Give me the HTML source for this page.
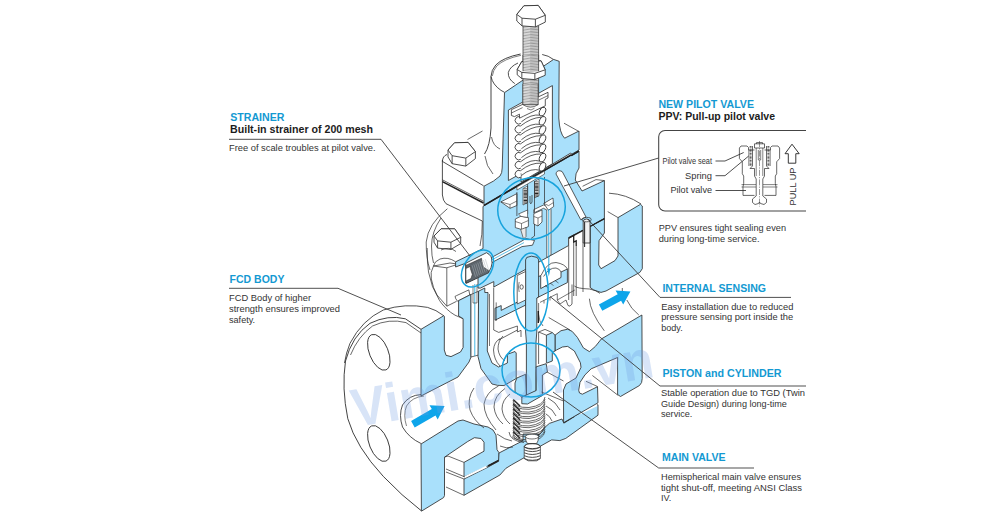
<!DOCTYPE html>
<html><head><meta charset="utf-8"><title>valve</title>
<style>
html,body{margin:0;padding:0;background:#fff;}
svg{display:block;font-family:"Liberation Sans",sans-serif;}
</style></head><body>
<svg width="1000" height="521" viewBox="0 0 1000 521">
<rect width="1000" height="521" fill="#fff"/>
<path d="M520.6,54 Q503,57.5 495.8,65 Q491.3,70 491,76.5 V128 Q490,146 484.5,154" fill="none" stroke="#2b2b2b" stroke-width="0.89" />
<path d="M521,55.3 Q504,58.8 496.8,66 Q493,70.5 492.3,76" fill="none" stroke="#2b2b2b" stroke-width="0.59" />
<path d="M518,63 Q510,66.5 508.3,72.5 Q507.8,79 514.8,83.6" fill="none" stroke="#2b2b2b" stroke-width="0.83" />
<path d="M491,76.5 Q492.5,84.5 501,90.4 L504.5,92.3" fill="none" stroke="#2b2b2b" stroke-width="0.83" />
<path d="M542.2,54.5 Q548.5,55.5 553.5,59.5" fill="none" stroke="#2b2b2b" stroke-width="0.83" />
<path d="M504.5,92.6 L553.6,59.4 L559.2,61.3 L558.8,118 Q559.6,133.5 564.6,138.2 L579,131 V150 L571.8,154.2 L570.8,153 L484,205.5 V186.2 Q495,181 500,176 Q502.2,173 502.2,168 Z" fill="#a9e0fb" stroke="#2b2b2b" stroke-width="0.83" />
<path d="M564,123.2 L578.4,131.2" fill="none" stroke="#2b2b2b" stroke-width="0.71" />
<path d="M508.4,110 L552.4,85.6 V163.8 L521,182.0 L521,173.5 L508.4,180.5 Z" fill="#fff" stroke="#2b2b2b" stroke-width="0.83" />
<path d="M523.0,26.0 L538.6,26.0 L538.6,107.0 L523.0,107.0 Z" fill="#e4e4e4" stroke="none" stroke-width="0.7" />
<rect x="523.0" y="26" width="7.02000000000001" height="81" fill="#fff"/>
<path d="M523.0,26.0 Q530.8,27.3 538.6,26.2" fill="none" stroke="#555" stroke-width="0.53" />
<path d="M523.0,27.6 Q530.8,28.9 538.6,27.8" fill="none" stroke="#555" stroke-width="0.53" />
<path d="M523.0,29.1 Q530.8,30.4 538.6,29.3" fill="none" stroke="#555" stroke-width="0.53" />
<path d="M523.0,30.7 Q530.8,32.0 538.6,30.9" fill="none" stroke="#555" stroke-width="0.53" />
<path d="M523.0,32.2 Q530.8,33.5 538.6,32.4" fill="none" stroke="#555" stroke-width="0.53" />
<path d="M523.0,33.8 Q530.8,35.0 538.6,34.0" fill="none" stroke="#555" stroke-width="0.53" />
<path d="M523.0,35.3 Q530.8,36.6 538.6,35.5" fill="none" stroke="#555" stroke-width="0.53" />
<path d="M523.0,36.8 Q530.8,38.1 538.6,37.0" fill="none" stroke="#555" stroke-width="0.53" />
<path d="M523.0,38.4 Q530.8,39.7 538.6,38.6" fill="none" stroke="#555" stroke-width="0.53" />
<path d="M523.0,39.9 Q530.8,41.2 538.6,40.1" fill="none" stroke="#555" stroke-width="0.53" />
<path d="M523.0,41.5 Q530.8,42.8 538.6,41.7" fill="none" stroke="#555" stroke-width="0.53" />
<path d="M523.0,43.0 Q530.8,44.3 538.6,43.2" fill="none" stroke="#555" stroke-width="0.53" />
<path d="M523.0,44.6 Q530.8,45.9 538.6,44.8" fill="none" stroke="#555" stroke-width="0.53" />
<path d="M523.0,46.1 Q530.8,47.4 538.6,46.3" fill="none" stroke="#555" stroke-width="0.53" />
<path d="M523.0,47.7 Q530.8,49.0 538.6,47.9" fill="none" stroke="#555" stroke-width="0.53" />
<path d="M523.0,49.2 Q530.8,50.5 538.6,49.4" fill="none" stroke="#555" stroke-width="0.53" />
<path d="M523.0,50.8 Q530.8,52.1 538.6,51.0" fill="none" stroke="#555" stroke-width="0.53" />
<path d="M523.0,52.3 Q530.8,53.6 538.6,52.5" fill="none" stroke="#555" stroke-width="0.53" />
<path d="M523.0,53.9 Q530.8,55.2 538.6,54.1" fill="none" stroke="#555" stroke-width="0.53" />
<path d="M523.0,55.4 Q530.8,56.7 538.6,55.6" fill="none" stroke="#555" stroke-width="0.53" />
<path d="M523.0,57.0 Q530.8,58.3 538.6,57.2" fill="none" stroke="#555" stroke-width="0.53" />
<path d="M523.0,58.5 Q530.8,59.8 538.6,58.7" fill="none" stroke="#555" stroke-width="0.53" />
<path d="M523.0,60.1 Q530.8,61.4 538.6,60.3" fill="none" stroke="#555" stroke-width="0.53" />
<path d="M523.0,61.6 Q530.8,62.9 538.6,61.8" fill="none" stroke="#555" stroke-width="0.53" />
<path d="M523.0,63.2 Q530.8,64.5 538.6,63.4" fill="none" stroke="#555" stroke-width="0.53" />
<path d="M523.0,64.7 Q530.8,66.0 538.6,64.9" fill="none" stroke="#555" stroke-width="0.53" />
<path d="M523.0,66.3 Q530.8,67.6 538.6,66.5" fill="none" stroke="#555" stroke-width="0.53" />
<path d="M523.0,67.8 Q530.8,69.1 538.6,68.0" fill="none" stroke="#555" stroke-width="0.53" />
<path d="M523.0,69.4 Q530.8,70.7 538.6,69.6" fill="none" stroke="#555" stroke-width="0.53" />
<path d="M523.0,70.9 Q530.8,72.2 538.6,71.1" fill="none" stroke="#555" stroke-width="0.53" />
<path d="M523.0,72.5 Q530.8,73.8 538.6,72.7" fill="none" stroke="#555" stroke-width="0.53" />
<path d="M523.0,74.0 Q530.8,75.3 538.6,74.2" fill="none" stroke="#555" stroke-width="0.53" />
<path d="M523.0,75.6 Q530.8,76.9 538.6,75.8" fill="none" stroke="#555" stroke-width="0.53" />
<path d="M523.0,77.1 Q530.8,78.4 538.6,77.3" fill="none" stroke="#555" stroke-width="0.53" />
<path d="M523.0,78.7 Q530.8,80.0 538.6,78.9" fill="none" stroke="#555" stroke-width="0.53" />
<path d="M523.0,80.2 Q530.8,81.5 538.6,80.4" fill="none" stroke="#555" stroke-width="0.53" />
<path d="M523.0,81.8 Q530.8,83.1 538.6,82.0" fill="none" stroke="#555" stroke-width="0.53" />
<path d="M523.0,83.3 Q530.8,84.6 538.6,83.5" fill="none" stroke="#555" stroke-width="0.53" />
<path d="M523.0,84.9 Q530.8,86.2 538.6,85.1" fill="none" stroke="#555" stroke-width="0.53" />
<path d="M523.0,86.4 Q530.8,87.7 538.6,86.6" fill="none" stroke="#555" stroke-width="0.53" />
<path d="M523.0,88.0 Q530.8,89.3 538.6,88.2" fill="none" stroke="#555" stroke-width="0.53" />
<path d="M523.0,89.5 Q530.8,90.8 538.6,89.7" fill="none" stroke="#555" stroke-width="0.53" />
<path d="M523.0,91.1 Q530.8,92.4 538.6,91.3" fill="none" stroke="#555" stroke-width="0.53" />
<path d="M523.0,92.6 Q530.8,93.9 538.6,92.8" fill="none" stroke="#555" stroke-width="0.53" />
<path d="M523.0,94.2 Q530.8,95.5 538.6,94.4" fill="none" stroke="#555" stroke-width="0.53" />
<path d="M523.0,95.7 Q530.8,97.0 538.6,95.9" fill="none" stroke="#555" stroke-width="0.53" />
<path d="M523.0,97.3 Q530.8,98.6 538.6,97.5" fill="none" stroke="#555" stroke-width="0.53" />
<path d="M523.0,98.8 Q530.8,100.1 538.6,99.0" fill="none" stroke="#555" stroke-width="0.53" />
<path d="M523.0,100.4 Q530.8,101.7 538.6,100.6" fill="none" stroke="#555" stroke-width="0.53" />
<path d="M523.0,101.9 Q530.8,103.2 538.6,102.1" fill="none" stroke="#555" stroke-width="0.53" />
<path d="M523.0,103.5 Q530.8,104.8 538.6,103.7" fill="none" stroke="#555" stroke-width="0.53" />
<path d="M523.0,105.0 Q530.8,106.3 538.6,105.2" fill="none" stroke="#555" stroke-width="0.53" />
<path d="M523.0,106.6 Q530.8,107.9 538.6,106.8" fill="none" stroke="#555" stroke-width="0.53" />
<line x1="523.0" y1="26" x2="523.0" y2="107" stroke="#2b2b2b" stroke-width="0.71"/>
<line x1="538.6" y1="26" x2="538.6" y2="107" stroke="#2b2b2b" stroke-width="0.71"/>
<path d="M520.5,117.0 Q531,108.7 541.2,108.0" fill="none" stroke="#2b2b2b" stroke-width="0.77" />
<path d="M521.4,121.8 Q531,113.7 540.4,115.2" fill="none" stroke="#2b2b2b" stroke-width="0.77" />
<path d="M520.6,117.1 A3.7,3.7 0 1 0 520.9,123.4" fill="#fff" stroke="#2b2b2b" stroke-width="0.83" />
<ellipse cx="542.5" cy="111.6" rx="2.9" ry="4.6" transform="rotate(22 542.5 111.6)" fill="#fff" stroke="#2b2b2b" stroke-width="0.83"/>
<path d="M520.5,126.0 Q531,117.7 541.2,117.2" fill="none" stroke="#2b2b2b" stroke-width="0.77" />
<path d="M521.4,130.8 Q531,122.7 540.4,124.4" fill="none" stroke="#2b2b2b" stroke-width="0.77" />
<path d="M520.6,126.1 A3.7,3.7 0 1 0 520.9,132.3" fill="#fff" stroke="#2b2b2b" stroke-width="0.83" />
<ellipse cx="542.5" cy="120.8" rx="2.9" ry="4.6" transform="rotate(22 542.5 120.8)" fill="#fff" stroke="#2b2b2b" stroke-width="0.83"/>
<path d="M520.5,134.9 Q531,126.6 541.2,126.4" fill="none" stroke="#2b2b2b" stroke-width="0.77" />
<path d="M521.4,139.7 Q531,131.6 540.4,133.6" fill="none" stroke="#2b2b2b" stroke-width="0.77" />
<path d="M520.6,135.0 A3.7,3.7 0 1 0 520.9,141.3" fill="#fff" stroke="#2b2b2b" stroke-width="0.83" />
<ellipse cx="542.5" cy="130.0" rx="2.9" ry="4.6" transform="rotate(22 542.5 130.0)" fill="#fff" stroke="#2b2b2b" stroke-width="0.83"/>
<path d="M520.5,143.9 Q531,135.6 541.2,135.6" fill="none" stroke="#2b2b2b" stroke-width="0.77" />
<path d="M521.4,148.7 Q531,140.6 540.4,142.8" fill="none" stroke="#2b2b2b" stroke-width="0.77" />
<path d="M520.6,144.0 A3.7,3.7 0 1 0 520.9,150.2" fill="#fff" stroke="#2b2b2b" stroke-width="0.83" />
<ellipse cx="542.5" cy="139.2" rx="2.9" ry="4.6" transform="rotate(22 542.5 139.2)" fill="#fff" stroke="#2b2b2b" stroke-width="0.83"/>
<path d="M520.5,152.8 Q531,144.5 541.2,144.8" fill="none" stroke="#2b2b2b" stroke-width="0.77" />
<path d="M521.4,157.6 Q531,149.5 540.4,152.0" fill="none" stroke="#2b2b2b" stroke-width="0.77" />
<path d="M520.6,152.9 A3.7,3.7 0 1 0 520.9,159.2" fill="#fff" stroke="#2b2b2b" stroke-width="0.83" />
<ellipse cx="542.5" cy="148.39999999999998" rx="2.9" ry="4.6" transform="rotate(22 542.5 148.39999999999998)" fill="#fff" stroke="#2b2b2b" stroke-width="0.83"/>
<path d="M520.5,161.8 Q531,153.4 541.2,154.0" fill="none" stroke="#2b2b2b" stroke-width="0.77" />
<path d="M521.4,166.5 Q531,158.4 540.4,161.2" fill="none" stroke="#2b2b2b" stroke-width="0.77" />
<path d="M520.6,161.8 A3.7,3.7 0 1 0 520.9,168.1" fill="#fff" stroke="#2b2b2b" stroke-width="0.83" />
<ellipse cx="542.5" cy="157.6" rx="2.9" ry="4.6" transform="rotate(22 542.5 157.6)" fill="#fff" stroke="#2b2b2b" stroke-width="0.83"/>
<path d="M520.5,170.7 Q531,162.4 541.2,163.2" fill="none" stroke="#2b2b2b" stroke-width="0.77" />
<path d="M521.4,175.5 Q531,167.4 540.4,170.4" fill="none" stroke="#2b2b2b" stroke-width="0.77" />
<path d="M520.6,170.8 A3.7,3.7 0 1 0 520.9,177.1" fill="#fff" stroke="#2b2b2b" stroke-width="0.83" />
<ellipse cx="542.5" cy="166.79999999999998" rx="2.9" ry="4.6" transform="rotate(22 542.5 166.79999999999998)" fill="#fff" stroke="#2b2b2b" stroke-width="0.83"/>
<path d="M511.4,109.7 L548.0,92.3 L548.0,98.0 L545.3,99.4 L545.3,105.8 L523.5,116.2 L519.5,118.2 L519.5,114.2 L514.5,116.6 L511.4,115.5 Z" fill="#fff" stroke="#2b2b2b" stroke-width="0.77" />
<path d="M511.4,113 L522.6,107.6 M538.4,100.2 L548,95.6" fill="none" stroke="#2b2b2b" stroke-width="0.65" />
<path d="M522.8,84.0 L538.2,84.0 L538.2,104.6 L522.8,104.6 Z" fill="#e4e4e4" stroke="none" stroke-width="0.7" />
<rect x="522.8" y="84" width="6.9300000000000415" height="20.599999999999994" fill="#fff"/>
<path d="M522.8,84.0 Q530.5,85.3 538.2,84.2" fill="none" stroke="#555" stroke-width="0.53" />
<path d="M522.8,85.5 Q530.5,86.8 538.2,85.8" fill="none" stroke="#555" stroke-width="0.53" />
<path d="M522.8,87.1 Q530.5,88.4 538.2,87.3" fill="none" stroke="#555" stroke-width="0.53" />
<path d="M522.8,88.6 Q530.5,89.9 538.2,88.8" fill="none" stroke="#555" stroke-width="0.53" />
<path d="M522.8,90.2 Q530.5,91.5 538.2,90.4" fill="none" stroke="#555" stroke-width="0.53" />
<path d="M522.8,91.7 Q530.5,93.0 538.2,91.9" fill="none" stroke="#555" stroke-width="0.53" />
<path d="M522.8,93.3 Q530.5,94.6 538.2,93.5" fill="none" stroke="#555" stroke-width="0.53" />
<path d="M522.8,94.8 Q530.5,96.1 538.2,95.0" fill="none" stroke="#555" stroke-width="0.53" />
<path d="M522.8,96.4 Q530.5,97.7 538.2,96.6" fill="none" stroke="#555" stroke-width="0.53" />
<path d="M522.8,97.9 Q530.5,99.2 538.2,98.1" fill="none" stroke="#555" stroke-width="0.53" />
<path d="M522.8,99.5 Q530.5,100.8 538.2,99.7" fill="none" stroke="#555" stroke-width="0.53" />
<path d="M522.8,101.0 Q530.5,102.3 538.2,101.2" fill="none" stroke="#555" stroke-width="0.53" />
<path d="M522.8,102.6 Q530.5,103.9 538.2,102.8" fill="none" stroke="#555" stroke-width="0.53" />
<path d="M522.8,104.1 Q530.5,105.4 538.2,104.3" fill="none" stroke="#555" stroke-width="0.53" />
<line x1="522.8" y1="84" x2="522.8" y2="104.6" stroke="#2b2b2b" stroke-width="0.71"/>
<line x1="538.2" y1="84" x2="538.2" y2="104.6" stroke="#2b2b2b" stroke-width="0.71"/>
<path d="M522.8,104.6 Q530.5,109.8 538.2,104.6 Z" fill="#ddd" stroke="#2b2b2b" stroke-width="0.65" />
<path d="M527,108.5 L531,110 L534.5,108.2" fill="none" stroke="#2b2b2b" stroke-width="0.59" />
<path d="M517.2,69.5 L521.8,61.5 L541.1,60.9 L545.2,69.8 L545.2,75.3 L534.8,79.6 L521.8,78.6 L517.2,74.8 Z" fill="#fff" stroke="#2b2b2b" stroke-width="0.83" />
<path d="M517.2,69.5 L521.8,61.5 L541.1,60.9 L545.2,69.8 L534.8,73.4 L521.8,72.4 Z" fill="#fff" stroke="#2b2b2b" stroke-width="0.83" />
<line x1="521.830985915493" y1="72.35915492957747" x2="521.830985915493" y2="78.55915492957747" stroke="#2b2b2b" stroke-width="0.83"/>
<line x1="534.8450704225352" y1="73.44366197183099" x2="534.8450704225352" y2="79.643661971831" stroke="#2b2b2b" stroke-width="0.83"/>
<path d="M523.0,55.0 L538.6,55.0 L538.6,71.2 L523.0,71.2 Z" fill="#e4e4e4" stroke="none" stroke-width="0.7" />
<rect x="523.0" y="55" width="7.02000000000001" height="16.200000000000003" fill="#fff"/>
<path d="M523.0,55.0 Q530.8,56.3 538.6,55.2" fill="none" stroke="#555" stroke-width="0.53" />
<path d="M523.0,56.5 Q530.8,57.8 538.6,56.8" fill="none" stroke="#555" stroke-width="0.53" />
<path d="M523.0,58.1 Q530.8,59.4 538.6,58.3" fill="none" stroke="#555" stroke-width="0.53" />
<path d="M523.0,59.6 Q530.8,60.9 538.6,59.8" fill="none" stroke="#555" stroke-width="0.53" />
<path d="M523.0,61.2 Q530.8,62.5 538.6,61.4" fill="none" stroke="#555" stroke-width="0.53" />
<path d="M523.0,62.7 Q530.8,64.0 538.6,62.9" fill="none" stroke="#555" stroke-width="0.53" />
<path d="M523.0,64.3 Q530.8,65.6 538.6,64.5" fill="none" stroke="#555" stroke-width="0.53" />
<path d="M523.0,65.8 Q530.8,67.1 538.6,66.0" fill="none" stroke="#555" stroke-width="0.53" />
<path d="M523.0,67.4 Q530.8,68.7 538.6,67.6" fill="none" stroke="#555" stroke-width="0.53" />
<path d="M523.0,68.9 Q530.8,70.2 538.6,69.1" fill="none" stroke="#555" stroke-width="0.53" />
<path d="M523.0,70.5 Q530.8,71.8 538.6,70.7" fill="none" stroke="#555" stroke-width="0.53" />
<line x1="523.0" y1="55" x2="523.0" y2="71.2" stroke="#2b2b2b" stroke-width="0.71"/>
<line x1="538.6" y1="55" x2="538.6" y2="71.2" stroke="#2b2b2b" stroke-width="0.71"/>
<path d="M516.8,14.4 L523.9,5.8 L538.2,5.4 L545.3,15.3 L545.3,22.1 L535.4,26.9 L522.0,25.9 L516.8,21.0 Z" fill="#fff" stroke="#2b2b2b" stroke-width="0.83" />
<path d="M516.8,14.4 L523.9,5.8 L538.2,5.4 L545.3,15.3 L535.4,19.2 L522.0,18.2 Z" fill="#fff" stroke="#2b2b2b" stroke-width="0.83" />
<line x1="522.0" y1="18.2" x2="522.0" y2="25.9" stroke="#2b2b2b" stroke-width="0.83"/>
<line x1="535.4" y1="19.2" x2="535.4" y2="26.9" stroke="#2b2b2b" stroke-width="0.83"/>
<path d="M442.4,161.5 Q442.6,156 447,154.5" fill="none" stroke="#2b2b2b" stroke-width="0.83" />
<path d="M442.4,160 V195 Q443,201 446,203.7 L482.3,221" fill="none" stroke="#2b2b2b" stroke-width="0.83" />
<path d="M442.4,161.4 L483.6,185.8" fill="none" stroke="#2b2b2b" stroke-width="0.83" />
<path d="M442.4,179.8 L483.5,201.2" fill="none" stroke="#2b2b2b" stroke-width="0.71" />
<path d="M442.4,181.6 L483.5,203.0" fill="none" stroke="#222" stroke-width="1.53" />
<path d="M448.0,150.0 L454.5,142.8 L468.1,142.4 L475.4,151.6 L475.4,158.6 L465.8,166.1 L452.1,163.7 L448.0,156.9 Z" fill="#fff" stroke="#2b2b2b" stroke-width="0.83" />
<path d="M448.0,150.0 L454.5,142.8 L468.1,142.4 L475.4,151.6 L465.8,158.1 L452.1,155.7 Z" fill="#fff" stroke="#2b2b2b" stroke-width="0.83" />
<line x1="452.1366197183099" y1="155.71830985915494" x2="452.1366197183099" y2="163.71830985915494" stroke="#2b2b2b" stroke-width="0.83"/>
<line x1="465.8408450704225" y1="158.0845070422535" x2="465.8408450704225" y2="166.0845070422535" stroke="#2b2b2b" stroke-width="0.83"/>
<path d="M467.5,139.5 L482.5,131" fill="none" stroke="#2b2b2b" stroke-width="0.71" />
<path d="M491.5,137 Q493,146 500,149" fill="none" stroke="#2b2b2b" stroke-width="0.71" />
<path d="M485,156 Q486,166 493,174" fill="none" stroke="#2b2b2b" stroke-width="0.71" />
<path d="M482.3,221 Q482.5,235 480,246" fill="none" stroke="#2b2b2b" stroke-width="0.71" />
<path d="M447.4,208.7 Q428,224 426.2,242 Q426,258 430,270" fill="none" stroke="#2b2b2b" stroke-width="0.71" />
<path d="M441,218 Q431.5,232 431.5,246 Q431.5,256 433.5,263" fill="none" stroke="#2b2b2b" stroke-width="0.71" />
<path d="M434.0,236.0 L441.1,228.8 L454.7,228.8 L460.7,237.3 L460.7,243.6 L450.9,249.4 L437.6,248.1 L434.0,242.2 Z" fill="#fff" stroke="#2b2b2b" stroke-width="0.83" />
<path d="M434.0,236.0 L441.1,228.8 L454.7,228.8 L460.7,237.3 L450.9,242.2 L437.6,240.9 Z" fill="#fff" stroke="#2b2b2b" stroke-width="0.83" />
<line x1="437.60915492957747" y1="240.8943661971831" x2="437.60915492957747" y2="248.0943661971831" stroke="#2b2b2b" stroke-width="0.83"/>
<line x1="450.9218309859155" y1="242.1669014084507" x2="450.9218309859155" y2="249.3669014084507" stroke="#2b2b2b" stroke-width="0.83"/>
<path d="M441,250 Q449,246 456,251.5" fill="none" stroke="#2b2b2b" stroke-width="0.71" />
<path d="M433.5,266 L450,263 L455.8,263.8 M433.5,266 Q430,272 431.3,279 Q433,288 437,295 L446.8,306.2 L456.6,301.3 M446.8,267.8 V306.2 M446.8,267.8 L455.6,265 M433.5,266 L446.8,267.8" fill="none" stroke="#2b2b2b" stroke-width="0.71" />
<path d="M455.6,261.8 Q448,256.5 440,259 Q434,261.5 433.5,266" fill="none" stroke="#2b2b2b" stroke-width="0.71" />
<path d="M455.0,296.4 L456.6,295.6 L468.8,289.9 L469.8,295.0 L457.7,301.3 L455.8,298.8 Z" fill="#fff" stroke="#2b2b2b" stroke-width="0.71" />
<path d="M427.2,248 Q427,262 428.5,272 Q431,287 439.5,300.5 Q446,310 455,315.2 L463.1,318.7" fill="none" stroke="#2b2b2b" stroke-width="0.71" />
<path d="M421,329.3 L405.4,318.8 Q388,314.5 370,323.3 Q352,336 345.5,361 Q341.5,388 347.8,418.7 Q356,447 383.3,476.4 Q402,496 421,510.5" fill="#fff" stroke="#2b2b2b" stroke-width="0.89" />
<path d="M444.2,316 Q436,309.6 427.6,307.4 Q405,303 383.3,310 Q362,320 350,343.3 Q346,353 344.5,363" fill="none" stroke="#2b2b2b" stroke-width="0.83" />
<ellipse cx="378.8" cy="352.3" rx="9.4" ry="19" transform="rotate(-22 378.8 352.3)" fill="none" stroke="#2b2b2b" stroke-width="0.83"/>
<ellipse cx="378.8" cy="443.5" rx="9.4" ry="19" transform="rotate(-22 378.8 443.5)" fill="none" stroke="#2b2b2b" stroke-width="0.83"/>
<path d="M421,333 L406,322.6 Q389,318.2 372.5,326 Q358,336.5 350.5,355" fill="none" stroke="#2b2b2b" stroke-width="0.71" />
<path d="M421,394.6 Q409,395 402.5,405 Q398.5,415 402.5,427 Q409,438 421,443.5" fill="none" stroke="#2b2b2b" stroke-width="0.83" />
<path d="M424,396 Q412,397 406.5,406 Q403,415 406.5,426" fill="none" stroke="#2b2b2b" stroke-width="0.59" />
<path d="M483,206.4 L570.8,155.5 L571.8,155.6 L579,151.3 V168 Q575,173.5 575.3,180 L582,191 L604.4,180.6 V218.7 L568.7,238 V245.5 L493.8,287 V281.6 L480.4,288.1 H478 V277.3 L465.8,283 V263.2 L455.6,267 V261.8 L483,248.6 Z" fill="#a9e0fb" stroke="#2b2b2b" stroke-width="0.83" />
<path d="M484,205.3 L570.8,155.0 L571.8,155.2 L579,151" fill="none" stroke="#1e1e1e" stroke-width="1.53" />
<path d="M582.6,186.3 L596,179.6 L604.4,180.6" fill="none" stroke="#2b2b2b" stroke-width="0.71" />
<path d="M465.8,263.2 L486.5,252.7 Q492.3,255.5 492.3,262 Q491.5,268.5 488.8,272 L465.8,283 Z" fill="#fff" stroke="#2b2b2b" stroke-width="0.83" />
<path d="M466.3,265.2 L481.5,258.3 L481.9,261.2 L483.3,267.0 L488.6,270.6 L488.8,272.8 L466.3,283.4 L466.3,280.8 L471.0,278.6 L472.3,274.4 L470.4,268.6 L470.4,266.4 L466.3,268.3 Z" fill="#5d656c" stroke="#2b2b2b" stroke-width="0.59" />
<line x1="472.0" y1="265.264" x2="475.6" y2="276.764" stroke="#aeb6bc" stroke-width="0.47"/>
<line x1="473.9" y1="264.39" x2="477.5" y2="275.89" stroke="#aeb6bc" stroke-width="0.47"/>
<line x1="475.8" y1="263.51599999999996" x2="479.40000000000003" y2="275.01599999999996" stroke="#aeb6bc" stroke-width="0.47"/>
<line x1="477.7" y1="262.642" x2="481.3" y2="274.142" stroke="#aeb6bc" stroke-width="0.47"/>
<line x1="479.6" y1="261.768" x2="483.20000000000005" y2="273.268" stroke="#aeb6bc" stroke-width="0.47"/>
<line x1="481.5" y1="260.894" x2="485.1" y2="272.394" stroke="#aeb6bc" stroke-width="0.47"/>
<line x1="483.4" y1="260.02" x2="487.0" y2="271.52" stroke="#aeb6bc" stroke-width="0.47"/>
<line x1="485.3" y1="259.14599999999996" x2="488.90000000000003" y2="270.64599999999996" stroke="#aeb6bc" stroke-width="0.47"/>
<path d="M491.5,257.5 L521,241.5 L526,238.5 L534.5,240.5 L532.5,245.2 L522,246.6 L492,262.5 Z" fill="#fff" stroke="#2b2b2b" stroke-width="0.77" />
<line x1="491" y1="260.3" x2="524" y2="242.6" stroke="#17a3dd" stroke-width="0.7"/>
<path d="M421.0,329.3 L443.6,315.8 L444.4,316.6 L444.3,350.0 L446.0,355.3 L451.0,356.6 L460.5,352.0 L463.1,347.5 L463.1,318.7 L458.6,316.0 L458.6,300.6 L469.8,295.0 L471.0,294.5 L471.0,357.0 L469.0,362.0 L458.0,377.0 L421.0,396.0 Z" fill="#a9e0fb" stroke="#2b2b2b" stroke-width="0.83" />
<path d="M471.0,294.5 L478.6,291.2 L478.6,355.0 L471.0,357.0 Z" fill="#fff" stroke="#2b2b2b" stroke-width="0.71" />
<line x1="474.8" y1="284" x2="474.8" y2="356" stroke="#17a3dd" stroke-width="0.8"/>
<path d="M473,285 V303 H477 V284" fill="none" stroke="#2b2b2b" stroke-width="0.59" />
<path d="M478.6,291.2 L484.8,288.0 L484.8,292.5 L488.0,292.5 L487.3,351.0 L492.0,363.0 L498.6,367.0 L507.4,363.0 L507.4,354.3 L515.0,351.5 L516.2,353.0 L516.2,378.5 L504.0,385.6 L497.5,385.3 L492.0,384.0 L481.0,368.6 L478.0,356.5 Z" fill="#a9e0fb" stroke="#2b2b2b" stroke-width="0.83" />
<path d="M421.0,444.0 L458.0,421.0 L463.0,420.0 L474.0,424.0 L488.0,427.0 L493.0,430.0 L496.0,435.0 L497.0,449.7 L499.0,452.7 L499.0,460.0 L488.0,466.0 L464.0,477.0 L464.0,462.4 L484.0,451.2 L484.0,442.2 L481.0,438.5 L474.4,437.7 L467.7,441.5 L444.5,457.2 L444.5,495.5 L443.6,497.6 L421.4,511.2 Z" fill="#a9e0fb" stroke="#2b2b2b" stroke-width="0.83" />
<path d="M444.5,457.2 L448,456 L464,462.4 M446,469 L464,476.6 M446,472 L464,479 M446,487 L464,495.3" fill="none" stroke="#2b2b2b" stroke-width="0.71" />
<path d="M464.0,479.0 L487.0,467.6 L498.6,461.2 L499.0,453.0 L523.0,440.7 L523.0,434.0 L538.5,434.0 L538.5,436.0 L545.0,427.2 L549.4,423.4 L562.0,419.0 L563.6,422.7 L574.0,416.3 L579.3,413.3 L598.0,404.7 L598.0,415.2 L565.8,438.4 L559.9,440.6 L551.6,439.9 L538.2,447.4 L524.0,457.8 L511.8,464.7 L505.8,468.4 L499.9,475.0 L464.0,495.3 Z" fill="#a9e0fb" stroke="#2b2b2b" stroke-width="0.83" />
<path d="M488,466 L498.6,460.5" fill="none" stroke="#222" stroke-width="1.65" />
<path d="M563.6,422.7 L574,416.3" fill="none" stroke="#222" stroke-width="1.65" />
<path d="M465,477 L486.5,466.6" fill="none" stroke="#fff" stroke-width="1.89" />
<path d="M580,413.4 L597,405.2" fill="none" stroke="#fff" stroke-width="1.89" />
<path d="M555.0,335.2 L561.0,330.7 L567.7,329.2 L572.2,331.4 L577.4,337.4 L583.4,347.9 L589.4,351.6 L595.4,346.4 L601.3,339.0 L641.9,315.0 L642.2,378.5 L641.6,382.5 L639.5,385.5 L620.5,396.5 L617.6,394.5 L617.6,357.5 L591.2,368.8 L585.0,374.8 L580.0,382.4 L578.7,390.3 L579.5,393.0 L582.4,394.2 L597.5,386.7 L598.0,402.8 L579.3,413.5 L563.6,422.7 L563.5,390.0 L566.0,384.0 L576.0,378.0 L581.0,367.3 L580.4,362.8 L574.4,351.0 L567.7,346.4 L562.4,347.0 L556.5,350.0 L555.0,351.0 Z" fill="#a9e0fb" stroke="#2b2b2b" stroke-width="0.83" />
<path d="M592.4,375.5 L618,395.3 M586,381.3 L597.5,386.5" fill="none" stroke="#2b2b2b" stroke-width="0.71" />
<path d="M590.0,226.5 L604.4,218.7 L604.4,233.0 L599.0,240.7 L598.7,265.0 L601.0,268.7 L615.0,260.6 L618.0,256.0 L618.0,217.6 L640.5,204.3 L642.3,206.0 L642.3,268.7 L639.8,272.4 L606.0,291.0 L601.0,292.4 L593.7,290.0 L590.0,287.4 Z" fill="#a9e0fb" stroke="#2b2b2b" stroke-width="0.83" />
<path d="M607.7,211.6 L618,217.6" fill="none" stroke="#2b2b2b" stroke-width="0.71" />
<path d="M533.8,213 L543.5,208.3 L546.8,210 V257.4 L551,255 V209.5 L548.5,206.5 L543.5,205 L533.8,209.6 Z" fill="#fff" stroke="#2b2b2b" stroke-width="0.71" />
<path d="M500.8,201.9 L516.9,193.6 L516.9,205.5 L510.0,208.3 Z" fill="#fff" stroke="#2b2b2b" stroke-width="0.71" />
<path d="M543.8,203.4 L553.0,198.0 L553.7,206.5 L548.4,210.3 Z" fill="#fff" stroke="#2b2b2b" stroke-width="0.71" />
<line x1="500.8" y1="201.9" x2="510" y2="204.5" stroke="#2b2b2b" stroke-width="0.59"/>
<line x1="510" y1="204.5" x2="516.9" y2="201" stroke="#2b2b2b" stroke-width="0.59"/>
<line x1="510" y1="204.5" x2="510" y2="208.3" stroke="#2b2b2b" stroke-width="0.59"/>
<line x1="543.8" y1="203.4" x2="548.6" y2="205.6" stroke="#2b2b2b" stroke-width="0.59"/>
<line x1="548.6" y1="205.6" x2="553.4" y2="202.6" stroke="#2b2b2b" stroke-width="0.59"/>
<path d="M516.9,187.1 L544.5,171.1 V174.1 L516.9,190.1 Z" fill="#fff" stroke="#2b2b2b" stroke-width="0.59" />
<path d="M523.0,188.5 L527.6,186.1 L527.6,202.6 L523.0,205.0 Z" fill="#fff" stroke="#2b2b2b" stroke-width="0.59" />
<line x1="525.3" y1="188.5" x2="525.3" y2="203.5" stroke="#222" stroke-width="3.4" stroke-dasharray="0.85 0.6"/>
<path d="M534.5,181.5 L539.0,179.1 L539.0,195.6 L534.5,198.0 Z" fill="#fff" stroke="#2b2b2b" stroke-width="0.59" />
<line x1="536.75" y1="181.5" x2="536.75" y2="196.5" stroke="#222" stroke-width="3.4" stroke-dasharray="0.85 0.6"/>
<path d="M516.9,192 V216 M544.5,177 V203.4 M527.6,184 V214 M534.5,181 V212 M530,196 V203 M532,195 V202 M530,203 Q531,205 532,202" fill="none" stroke="#2b2b2b" stroke-width="0.71" />
<path d="M515.3,219.0 L521.0,216.2 L528.4,217.6 L528.4,226.5 L522.0,229.6 L515.3,227.6 Z" fill="#fff" stroke="#2b2b2b" stroke-width="0.71" />
<path d="M515.3,221.5 L521.5,223.5 L528.4,220.5 M521.5,223.5 V229.5" fill="none" stroke="#2b2b2b" stroke-width="0.59" />
<path d="M518.5,214.0 L527.6,210.0 L527.6,217.5 L521.0,216.4 Z" fill="#fff" stroke="#2b2b2b" stroke-width="0.65" />
<path d="M533.8,213.6 L542.0,210.0 L542.0,222.0 L538.0,226.0 L533.8,224.0 Z" fill="#fff" stroke="#2b2b2b" stroke-width="0.71" />
<path d="M533.8,216.5 L538,218 L542,216 M538,218 V226" fill="none" stroke="#2b2b2b" stroke-width="0.59" />
<path d="M520.7,229.5 L526.0,227.5 L526.0,236.5 L523.5,239.0 Z" fill="#e9e9e9" stroke="#2b2b2b" stroke-width="0.59" />
<path d="M534.5,224 V236 L531,238.5" fill="none" stroke="#2b2b2b" stroke-width="0.71" />
<path d="M556,174 Q556.5,170.3 560,170.8 Q562.5,171 563,173 L586,217 L580.8,219.8 Z" fill="#fff" stroke="#2b2b2b" stroke-width="0.77" />
<path d="M568.7,238 L590,226.5 V287.4 L583,291 V300 L568.7,300 Z" fill="#fff" stroke="none" stroke-width="0.6" />
<path d="M568.7,238 V300 M573.7,242 V296 M576.2,246 V296 M583,230.5 V292 M590,226.5 V287.4" fill="none" stroke="#2b2b2b" stroke-width="0.71" />
<path d="M568.7,238 L573.7,235.3 V242 L576.2,240.8 V246" fill="none" stroke="#222" stroke-width="1.3" />
<path d="M568.7,238 L583,230.3 M590,226.5 L604.4,218.7" fill="none" stroke="#222" stroke-width="1.42" />
<path d="M583.2,221.5 Q583.4,219 586.5,219 Q589.8,219 590,221.5 V243 H583.2 Z" fill="#f2f2f2" stroke="#2b2b2b" stroke-width="0.83" />
<line x1="584.6" y1="222" x2="584.6" y2="247" stroke="#2b2b2b" stroke-width="1.06"/>
<ellipse cx="586.6" cy="219.6" rx="4.6" ry="2.2" transform="rotate(0 586.6 219.6)" fill="none" stroke="#2b2b2b" stroke-width="0.71"/>
<path d="M495.0,308.2 L501.2,305.6 L501.2,310.4 L521.8,299.8 L521.8,291.0 L525.8,289.0 L525.8,305.0 L495.0,320.2 Z" fill="#a9e0fb" stroke="#2b2b2b" stroke-width="0.83" />
<path d="M536.6,277.5 L540.7,275.6 L540.7,288.6 L561.0,277.5 L561.0,272.0 L567.4,269.0 L567.4,282.6 L536.6,298.0 Z" fill="#a9e0fb" stroke="#2b2b2b" stroke-width="0.83" />
<path d="M525.6,259.8 L526.8,257.4 L531.5,256.2 L537.2,257.4 L538.6,259.8 L538.6,297.0 L536.8,298.0 L536.8,332.0 L536.0,342.0 L536.0,391.6 L527.2,395.8 L526.4,394.6 L526.4,342.0 L525.6,332.0 Z" fill="#a9e0fb" stroke="#2b2b2b" stroke-width="0.83" />
<path d="M517.2,275.5 L525.6,271.5 L525.6,300.0 L517.2,304.0 Z" fill="#fff" stroke="#2b2b2b" stroke-width="0.71" />
<path d="M541,275.5 Q547,262 556,262.5 Q565,264 567.4,269" fill="none" stroke="#2b2b2b" stroke-width="0.71" />
<path d="M543.6,276.5 Q549,267.5 556,268 Q560,269 561,272" fill="none" stroke="#2b2b2b" stroke-width="0.71" />
<path d="M536.2,366.8 L546.2,363.7 L547.4,371.8 L542.4,375.0 L542.4,395.5 L527.5,404.0 L521.8,403.7 L521.8,397.0 L536.2,390.5 Z" fill="#a9e0fb" stroke="#2b2b2b" stroke-width="0.83" />
<path d="M516.8,378.0 L525.6,374.3 L526.4,394.8 L521.8,397.0 L515.0,392.0 L515.0,383.0 Z" fill="#a9e0fb" stroke="#2b2b2b" stroke-width="0.83" />
<path d="M546.4,335.2 L552.3,332.6 L555.0,335.2 L555.0,351.0 L552.3,352.5 L552.3,361.0 L547.0,363.0 L546.4,362.8 Z" fill="#a9e0fb" stroke="#2b2b2b" stroke-width="0.83" />
<path d="M538.6,332 L546.4,335.2 M538.6,332 L545,329.4 L552.3,332.6 M538.6,332 V364" fill="none" stroke="#2b2b2b" stroke-width="0.71" />
<path d="M474,388 Q467,398 470,410 Q474,421 484,428" fill="none" stroke="#2b2b2b" stroke-width="0.71" />
<path d="M498.5,386 Q486,392 484,404 Q484,416 496,430" fill="none" stroke="#2b2b2b" stroke-width="0.71" />
<path d="M505,388.5 Q494,396 494,407 Q495,417 503,424" fill="none" stroke="#2b2b2b" stroke-width="0.71" />
<path d="M510,394 Q502,400 502,409 Q503,418 510,424" fill="none" stroke="#2b2b2b" stroke-width="0.71" />
<path d="M497,434 Q505,440 512,441" fill="none" stroke="#2b2b2b" stroke-width="0.71" />
<path d="M500,446 Q506,449 513,447" fill="none" stroke="#2b2b2b" stroke-width="0.71" />
<path d="M548,398 Q556,402 560,410 M546,406 Q553,409 556,416 M546,414 Q550,416 552,421" fill="none" stroke="#2b2b2b" stroke-width="0.71" />
<path d="M541.5,392 L563.5,401 M547,372 L563.5,381" fill="none" stroke="#2b2b2b" stroke-width="0.71" />
<path d="M513,400.5 Q514,408.0 529,407.5 Q544,405.5 545,397.0" fill="none" stroke="#2b2b2b" stroke-width="0.71" />
<path d="M513,402.7 Q514.5,409.5 529,409.3 Q543.5,407.5 545,399.2" fill="none" stroke="#2b2b2b" stroke-width="0.71" />
<path d="M513.2,399.5 L520,406.0" fill="none" stroke="#2a2a2a" stroke-width="1.53" />
<path d="M513,405.1 Q514,412.6 529,412.1 Q544,410.1 545,401.6" fill="none" stroke="#2b2b2b" stroke-width="0.71" />
<path d="M513,407.3 Q514.5,414.1 529,413.9 Q543.5,412.1 545,403.8" fill="none" stroke="#2b2b2b" stroke-width="0.71" />
<path d="M513.2,404.1 L520,410.6" fill="none" stroke="#2a2a2a" stroke-width="1.53" />
<path d="M513,409.7 Q514,417.2 529,416.7 Q544,414.7 545,406.2" fill="none" stroke="#2b2b2b" stroke-width="0.71" />
<path d="M513,411.9 Q514.5,418.7 529,418.5 Q543.5,416.7 545,408.4" fill="none" stroke="#2b2b2b" stroke-width="0.71" />
<path d="M513.2,408.7 L520,415.2" fill="none" stroke="#2a2a2a" stroke-width="1.53" />
<path d="M513,414.3 Q514,421.8 529,421.3 Q544,419.3 545,410.8" fill="none" stroke="#2b2b2b" stroke-width="0.71" />
<path d="M513,416.5 Q514.5,423.3 529,423.1 Q543.5,421.3 545,413.0" fill="none" stroke="#2b2b2b" stroke-width="0.71" />
<path d="M513.2,413.3 L520,419.8" fill="none" stroke="#2a2a2a" stroke-width="1.53" />
<path d="M513,418.9 Q514,426.4 529,425.9 Q544,423.9 545,415.4" fill="none" stroke="#2b2b2b" stroke-width="0.71" />
<path d="M513,421.1 Q514.5,427.9 529,427.7 Q543.5,425.9 545,417.6" fill="none" stroke="#2b2b2b" stroke-width="0.71" />
<path d="M513.2,417.9 L520,424.4" fill="none" stroke="#2a2a2a" stroke-width="1.53" />
<path d="M513,423.5 Q514,431.0 529,430.5 Q544,428.5 545,420.0" fill="none" stroke="#2b2b2b" stroke-width="0.71" />
<path d="M513,425.7 Q514.5,432.5 529,432.3 Q543.5,430.5 545,422.2" fill="none" stroke="#2b2b2b" stroke-width="0.71" />
<path d="M513.2,422.5 L520,429.0" fill="none" stroke="#2a2a2a" stroke-width="1.53" />
<path d="M513,428.1 Q514,435.6 529,435.1 Q544,433.1 545,424.6" fill="none" stroke="#2b2b2b" stroke-width="0.71" />
<path d="M513,430.3 Q514.5,437.1 529,436.9 Q543.5,435.1 545,426.8" fill="none" stroke="#2b2b2b" stroke-width="0.71" />
<path d="M513.2,427.1 L520,433.6" fill="none" stroke="#2a2a2a" stroke-width="1.53" />
<path d="M513,432.7 Q514,440.2 529,439.7 Q544,437.7 545,429.2" fill="none" stroke="#2b2b2b" stroke-width="0.71" />
<path d="M513,434.9 Q514.5,441.7 529,441.5 Q543.5,439.7 545,431.4" fill="none" stroke="#2b2b2b" stroke-width="0.71" />
<path d="M513.2,431.7 L520,438.2" fill="none" stroke="#2a2a2a" stroke-width="1.53" />
<path d="M509,432 Q510,441 524,442.5 M512,436.5 Q514,439.5 523,440.5" fill="none" stroke="#2b2b2b" stroke-width="0.71" />
<path d="M525.5,437.5 Q525.5,441.5 527.5,443.6 H536.5 Q538.5,441.5 538.5,437 Z" fill="#fff" stroke="#2b2b2b" stroke-width="0.71" />
<ellipse cx="532" cy="436.6" rx="6.6" ry="2.4" transform="rotate(0 532 436.6)" fill="#fff" stroke="#2b2b2b" stroke-width="0.65"/>
<path d="M527.5,443.6 L536.5,443.6 L539.4,445.2 L540.4,446.5 L540.4,458.3 L537.0,460.8 L528.0,460.8 L524.2,458.3 L524.2,446.5 L525.2,445.2 Z" fill="#fff" stroke="#2b2b2b" stroke-width="0.71" />
<path d="M524.2,447.0 Q532.3,450.4 540.4,447.0" fill="none" stroke="#2b2b2b" stroke-width="0.83" />
<path d="M524.2,449.9 Q532.3,453.3 540.4,449.9" fill="none" stroke="#2b2b2b" stroke-width="0.83" />
<path d="M524.2,452.8 Q532.3,456.2 540.4,452.8" fill="none" stroke="#2b2b2b" stroke-width="0.83" />
<path d="M524.2,455.7 Q532.3,459.1 540.4,455.7" fill="none" stroke="#2b2b2b" stroke-width="0.83" />
<path d="M524.2,458.6 Q532.3,462.0 540.4,458.6" fill="none" stroke="#2b2b2b" stroke-width="0.83" />
<ellipse cx="532.3" cy="446.4" rx="7.9" ry="2.7" transform="rotate(0 532.3 446.4)" fill="none" stroke="#2b2b2b" stroke-width="0.71"/>
<path d="M574.4,286 Q577,288.5 589.4,289 Q596,290 600,293.4" fill="none" stroke="#2b2b2b" stroke-width="0.71" />
<path d="M572,284.5 V304 Q570,307.5 568,305.5 L566,300" fill="none" stroke="#2b2b2b" stroke-width="0.71" />
<path d="M589.4,298.7 Q590,312 604.3,330.8" fill="none" stroke="#2b2b2b" stroke-width="0.71" />
<path d="M622.3,288 V292 M626.8,300 Q631,309 638.8,315" fill="none" stroke="#2b2b2b" stroke-width="0.71" />
<path d="M548.7,317.5 L570,330" fill="none" stroke="#2b2b2b" stroke-width="0.71" />
<path d="M609,193.2 Q626,194 641,204" fill="none" stroke="#2b2b2b" stroke-width="0.77" />
<path d="M493.7,287.5 V330 L498.7,332.4 L517.4,326" fill="none" stroke="#2b2b2b" stroke-width="0.71" />
<path d="M496.2,302.4 V321 M489.5,294 V346" fill="none" stroke="#2b2b2b" stroke-width="0.65" />
<path d="M498.7,340 L517.4,330 M500,338.6 Q494,342 493.5,350 Q494,360 500,366" fill="none" stroke="#2b2b2b" stroke-width="0.71" />
<path d="M503,336 Q498,341 498,349 Q499,357 505,361" fill="none" stroke="#2b2b2b" stroke-width="0.71" />
<path d="M517.4,326 V332 L521,330.3 V337" fill="none" stroke="#2b2b2b" stroke-width="0.71" />
<path d="M540,302.4 L557.3,293.7 M544,300.4 V303.5 M550,297.4 V300.5 M557.3,293.7 V300 L574.8,290" fill="none" stroke="#2b2b2b" stroke-width="0.65" />
<path d="M538.6,303 V314 Q539,322 543,326 M557.3,300 L560,304 L566,300" fill="none" stroke="#2b2b2b" stroke-width="0.65" />
<ellipse cx="521.6" cy="287" rx="1.7" ry="2.2" transform="rotate(0 521.6 287)" fill="#fff" stroke="#2b2b2b" stroke-width="0.71"/>
<path d="M519.2,282 Q517.6,287 519.2,292" fill="none" stroke="#2b2b2b" stroke-width="0.59" />
<path d="M538.3,311 V323" fill="none" stroke="#1e1e1e" stroke-width="1.42" />
<path d="M545,285.5 L548.5,288 M550,283 L553.5,285.5 M555,280.5 L558.5,283" fill="none" stroke="#2b2b2b" stroke-width="0.59" />
<path d="M414.7,427.5 L435.5,415.6 L437.7,419.5 L444.6,406.0 L429.5,405.2 L431.8,409.1 L411.1,421.1 Z" fill="#0ea5ea" stroke="none" stroke-width="0" />
<path d="M602.3,310.8 L621.1,300.7 L623.2,304.6 L630.4,291.6 L615.6,290.5 L617.7,294.3 L598.9,304.4 Z" fill="#0ea5ea" stroke="none" stroke-width="0" />
<ellipse cx="531.5" cy="208.5" rx="34" ry="30.5" transform="rotate(-18 531.5 208.5)" fill="none" stroke="#17a3dd" stroke-width="1.5"/>
<ellipse cx="477.5" cy="268.5" rx="20.6" ry="13.4" transform="rotate(-55 477.5 268.5)" fill="none" stroke="#17a3dd" stroke-width="1.5"/>
<ellipse cx="531" cy="292" rx="17.2" ry="39" transform="rotate(0 531 292)" fill="none" stroke="#17a3dd" stroke-width="1.5"/>
<ellipse cx="531" cy="370" rx="29" ry="27" transform="rotate(0 531 370)" fill="none" stroke="#17a3dd" stroke-width="1.5"/>
<line x1="548.8" y1="209" x2="548.8" y2="270" stroke="#17a3dd" stroke-width="0.9"/>
<path d="M547.2,268.5 L550.4,268.5 L548.8,276.5 Z" fill="#17a3dd" stroke="none" stroke-width="0.7" />
<text transform="translate(354.6,427.2) rotate(-9.5)" font-size="54" font-weight="bold" fill="#6f9be0" fill-opacity="0.27" textLength="305.5" lengthAdjust="spacingAndGlyphs">Vimi.com.vn</text>
<path d="M229,139.3 H381 L470,256" fill="none" stroke="#3a3a3a" stroke-width="0.89" />
<path d="M229,288.3 H338 L401,315" fill="none" stroke="#3a3a3a" stroke-width="0.89" />
<path d="M658.7,158 L564,186" fill="none" stroke="#3a3a3a" stroke-width="0.89" />
<path d="M791,297.4 H660 L588,219.5" fill="none" stroke="#3a3a3a" stroke-width="0.89" />
<path d="M806,386 H660 L550,296.5" fill="none" stroke="#3a3a3a" stroke-width="0.89" />
<path d="M754,468 H658.7 L553,392" fill="none" stroke="#3a3a3a" stroke-width="0.89" />
<path d="M806,130.5 H665 a6.3,6.3 0 0 0 -6.3,6.3 V204.7 a6.3,6.3 0 0 0 6.3,6.3 H806" fill="none" stroke="#444" stroke-width="1.06" />
<text x="230.2" y="120.8" font-size="10.4" fill="#1399d2" font-weight="bold" textLength="54.2" lengthAdjust="spacingAndGlyphs" >STRAINER</text>
<text x="229.6" y="283.0" font-size="10.4" fill="#1399d2" font-weight="bold" textLength="54.8" lengthAdjust="spacingAndGlyphs" >FCD BODY</text>
<text x="658.4" y="108.4" font-size="10.4" fill="#1399d2" font-weight="bold" textLength="95.6" lengthAdjust="spacingAndGlyphs" >NEW PILOT VALVE</text>
<text x="662.4" y="292" font-size="10.4" fill="#1399d2" font-weight="bold" textLength="103.6" lengthAdjust="spacingAndGlyphs" >INTERNAL SENSING</text>
<text x="662.4" y="377.2" font-size="10.4" fill="#1399d2" font-weight="bold" textLength="119.2" lengthAdjust="spacingAndGlyphs" >PISTON and CYLINDER</text>
<text x="662" y="461" font-size="10.4" fill="#1399d2" font-weight="bold" textLength="63.5" lengthAdjust="spacingAndGlyphs" >MAIN VALVE</text>
<text x="230" y="132.8" font-size="10.2" fill="#1c1c1c" font-weight="bold" textLength="143" lengthAdjust="spacingAndGlyphs" >Built-in strainer of 200 mesh</text>
<text x="658.4" y="120.4" font-size="10.2" fill="#1c1c1c" font-weight="bold" textLength="116.6" lengthAdjust="spacingAndGlyphs" >PPV: Pull-up pilot valve</text>
<text x="229" y="151" font-size="9.1" fill="#333" textLength="146.6" lengthAdjust="spacingAndGlyphs" >Free of scale troubles at pilot valve.</text>
<text x="229" y="301.4" font-size="9.1" fill="#333" textLength="82" lengthAdjust="spacingAndGlyphs" >FCD Body of higher</text>
<text x="229" y="311.7" font-size="9.1" fill="#333" textLength="111" lengthAdjust="spacingAndGlyphs" >strength ensures improved</text>
<text x="229" y="322.8" font-size="9.1" fill="#333" >safety.</text>
<text x="658.7" y="231" font-size="9.1" fill="#333" textLength="127.3" lengthAdjust="spacingAndGlyphs" >PPV ensures tight sealing even</text>
<text x="658.7" y="242.4" font-size="9.1" fill="#333" textLength="100.8" lengthAdjust="spacingAndGlyphs" >during long-time service.</text>
<text x="661.2" y="310" font-size="9.1" fill="#333" textLength="132.2" lengthAdjust="spacingAndGlyphs" >Easy installation due to reduced</text>
<text x="661.2" y="320.3" font-size="9.1" fill="#333" textLength="132" lengthAdjust="spacingAndGlyphs" >pressure sensing port inside the</text>
<text x="661.2" y="330.6" font-size="9.1" fill="#333" >body.</text>
<text x="661" y="395.7" font-size="9.1" fill="#333" textLength="144" lengthAdjust="spacingAndGlyphs" >Stable operation due to TGD (Twin</text>
<text x="661" y="406.6" font-size="9.1" fill="#333" >Guide Design) during long-time</text>
<text x="661" y="417.2" font-size="9.1" fill="#333" >service.</text>
<text x="661" y="479.8" font-size="9.1" fill="#333" textLength="140" lengthAdjust="spacingAndGlyphs" >Hemispherical main valve ensures</text>
<text x="661" y="490.8" font-size="9.1" fill="#333" textLength="141" lengthAdjust="spacingAndGlyphs" >tight shut-off, meeting ANSI Class</text>
<text x="661" y="501.4" font-size="9.1" fill="#333" >IV.</text>
<text x="662.5" y="163.7" font-size="8.6" fill="#333" textLength="49.5" lengthAdjust="spacingAndGlyphs" >Pilot valve seat</text>
<text x="685" y="178.7" font-size="9.4" fill="#333" textLength="27" lengthAdjust="spacingAndGlyphs" >Spring</text>
<text x="670.5" y="193.2" font-size="9.4" fill="#333" textLength="41.5" lengthAdjust="spacingAndGlyphs" >Pilot valve</text>
<path d="M715.5,161 H725 L743.7,152.5" fill="none" stroke="#2b2b2b" stroke-width="0.83" />
<path d="M715.5,175.7 H725 L748.7,156" fill="none" stroke="#2b2b2b" stroke-width="0.83" />
<path d="M715.5,190.5 H746" fill="none" stroke="#2b2b2b" stroke-width="0.83" />
<path d="M792,144.2 L799.2,153.7 H795.8 V163.2 H788.3 V153.7 H785 Z" fill="#fff" stroke="#2b2b2b" stroke-width="0.94" />
<text transform="translate(796.2,205.5) rotate(-90)" font-size="9.8" fill="#333" textLength="38" lengthAdjust="spacingAndGlyphs">PULL UP</text>
<path d="M764.5,150.0 L770.5,150.0 L770.5,147.5 L772.0,146.0 L778.0,146.0 L779.6,148.0 L779.6,158.5 L776.7,161.8 L776.7,173.8 L775.3,176.0 L775.3,183.5 L776.0,186.8 L776.0,195.4 L764.5,195.4" fill="none" stroke="#2b2b2b" stroke-width="0.71" />
<line x1="777.5" y1="184.6" x2="763.0" y2="184.6" stroke="#2b2b2b" stroke-width="0.59"/>
<line x1="777.5" y1="187" x2="763.0" y2="187" stroke="#2b2b2b" stroke-width="0.59"/>
<path d="M766.5,146.0 L766.5,166.0 L769.0,168.5 L764.5,168.5 L764.5,176.0 L762.8,179.0 L762.8,196.0 L766.5,199.0 L766.5,202.5 L764.0,204.5 L760.5,203.5 L759.5,202.0" fill="none" stroke="#2b2b2b" stroke-width="0.71" />
<line x1="768.4" y1="146" x2="768.4" y2="166" stroke="#333" stroke-width="2" stroke-dasharray="0.7 0.7"/>
<line x1="770.2" y1="150" x2="770.2" y2="166" stroke="#2b2b2b" stroke-width="0.59"/>
<line x1="762.8" y1="148" x2="762.8" y2="176" stroke="#2b2b2b" stroke-width="0.59"/>
<line x1="760.7" y1="150" x2="760.7" y2="160" stroke="#2b2b2b" stroke-width="0.59"/>
<path d="M754.5,150.0 L748.5,150.0 L748.5,147.5 L747.0,146.0 L741.0,146.0 L739.4,148.0 L739.4,158.5 L742.3,161.8 L742.3,173.8 L743.7,176.0 L743.7,183.5 L743.0,186.8 L743.0,195.4 L754.5,195.4" fill="none" stroke="#2b2b2b" stroke-width="0.71" />
<line x1="741.5" y1="184.6" x2="756.0" y2="184.6" stroke="#2b2b2b" stroke-width="0.59"/>
<line x1="741.5" y1="187" x2="756.0" y2="187" stroke="#2b2b2b" stroke-width="0.59"/>
<path d="M752.5,146.0 L752.5,166.0 L750.0,168.5 L754.5,168.5 L754.5,176.0 L756.2,179.0 L756.2,196.0 L752.5,199.0 L752.5,202.5 L755.0,204.5 L758.5,203.5 L759.5,202.0" fill="none" stroke="#2b2b2b" stroke-width="0.71" />
<line x1="750.6" y1="146" x2="750.6" y2="166" stroke="#333" stroke-width="2" stroke-dasharray="0.7 0.7"/>
<line x1="748.8" y1="150" x2="748.8" y2="166" stroke="#2b2b2b" stroke-width="0.59"/>
<line x1="756.2" y1="148" x2="756.2" y2="176" stroke="#2b2b2b" stroke-width="0.59"/>
<line x1="758.3" y1="150" x2="758.3" y2="160" stroke="#2b2b2b" stroke-width="0.59"/>
<path d="M754.5,148 V143.8 H764.5 V148 Z" fill="#fff" stroke="#2b2b2b" stroke-width="0.71" />
<path d="M756.5,143.8 V142.6 H762.5 V143.8" fill="none" stroke="#2b2b2b" stroke-width="0.71" />
<path d="M758.3,160 H760.7" fill="none" stroke="#2b2b2b" stroke-width="0.59" />
<line x1="759.5" y1="141" x2="759.5" y2="206.5" stroke="#333" stroke-width="0.5" stroke-dasharray="6 1.2 1.2 1.2"/>
</svg>
</body></html>
